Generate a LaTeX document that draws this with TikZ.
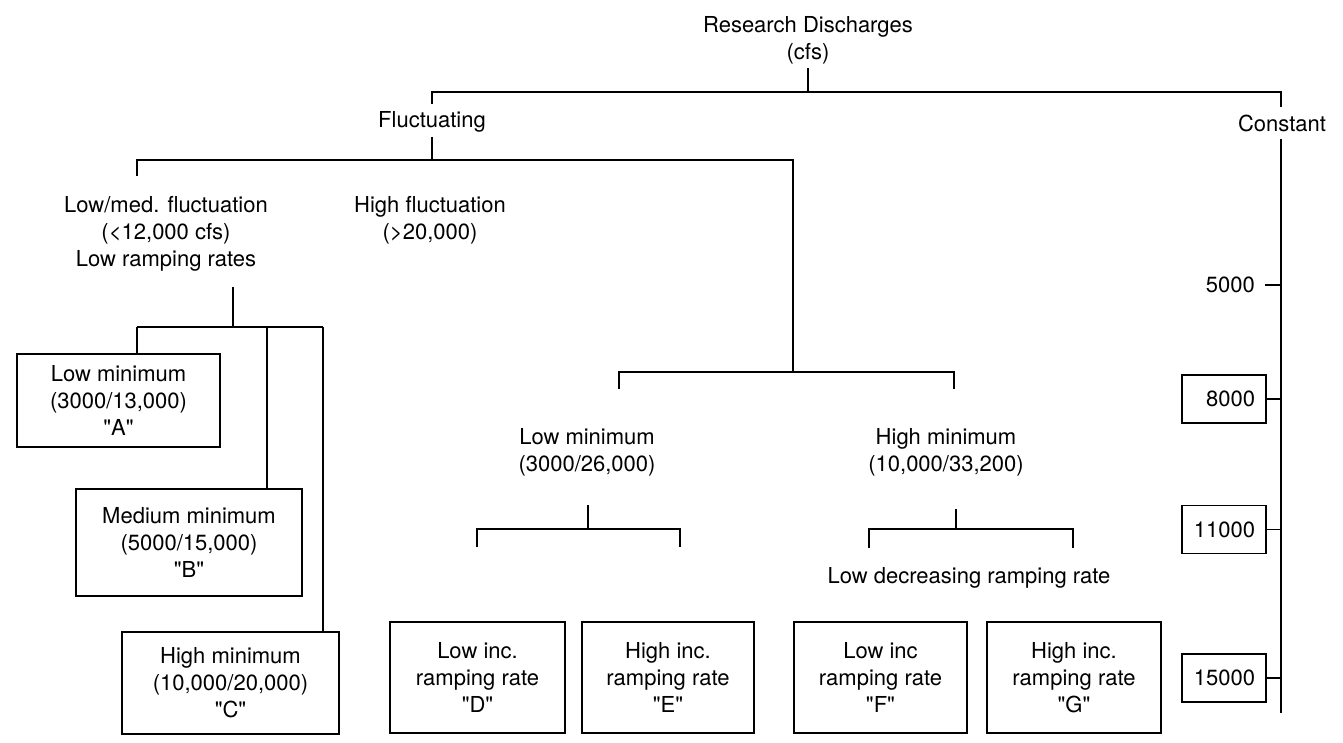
\documentclass[tikz,border=0pt]{standalone}
\usepackage{fontspec}
\setmainfont{TeX Gyre Heros}
\newcommand{\qq}[1]{\textquotedbl#1\textquotedbl}
\begin{document}
\begin{tikzpicture}[x=1pt,y=-1pt,
  every node/.style={font=\fontsize{22}{27}\selectfont, align=center, inner sep=0pt},
  conn/.style={line width=1.5pt},
  lbox/.style={draw, line width=1.5pt},
  numbox/.style={draw, line width=1.5pt, text width=62pt, align=right, inner xsep=11pt, minimum height=48pt}
]
\useasboundingbox (0,0) rectangle (1343,743);

% labels
\node (title) at (808,40) {Research Discharges\\(cfs)};
\node (fluct) at (432,122) {Fluctuating};
\node (const) at (1282,123) {Constant};
\node (lowmed) at (166,234) {Low/med. fluctuation\\(\textless12,000 cfs)\\Low ramping rates};
\node (highfl) at (430,220) {High fluctuation\\(\textgreater20,000)};
\node (lowmin) at (587,452) {Low minimum\\(3000/26,000)};
\node (highmin) at (946,452) {High minimum\\(10,000/33,200)};
\node (lowdec) at (969,578) {Low decreasing ramping rate};

% boxes
\node[lbox, minimum width=203pt, minimum height=93pt] (A) at (118.5,400.5) {Low minimum\\(3000/13,000)\\\qq{A}};
\node[lbox, minimum width=226pt, minimum height=107pt] (B) at (189,542.5) {Medium minimum\\(5000/15,000)\\\qq{B}};
\node[lbox, minimum width=217pt, minimum height=102pt] (C) at (230.5,683) {High minimum\\(10,000/20,000)\\\qq{C}};
\node[lbox, minimum width=175pt, minimum height=111pt] (D) at (477.5,677.5) {Low inc.\\ramping rate\\\qq{D}};
\node[lbox, minimum width=172pt, minimum height=111pt] (E) at (668,677.5) {High inc.\\ramping rate\\\qq{E}};
\node[lbox, minimum width=173pt, minimum height=111pt] (F) at (880.5,677.5) {Low inc\\ramping rate\\\qq{F}};
\node[lbox, minimum width=174pt, minimum height=111pt] (G) at (1074,677.5) {High inc.\\ramping rate\\\qq{G}};

\node[anchor=east] (n5) at (1255,285) {5000};
\node[numbox] (n8) at (1224,399) {8000};
\node[numbox] (n11) at (1224,529.5) {11000};
\node[numbox] (n15) at (1224,678) {15000};

% coordinates
\coordinate (topL) at (432,92);
\coordinate (topR) at (1281,92);
\coordinate (topM) at (808,92);
\coordinate (flL) at (137,160);
\coordinate (flR) at (793,160);
\coordinate (flM) at (432,160);
\coordinate (lmM) at (233,327);
\coordinate (lmL) at (137,327);
\coordinate (lmR) at (323,327);
\coordinate (hfL) at (619,372);
\coordinate (hfR) at (954,372);
\coordinate (loM) at (588,529);
\coordinate (loL) at (477,529);
\coordinate (loR) at (680,529);
\coordinate (hiM) at (956,529);
\coordinate (hiL) at (869,529);
\coordinate (hiR) at (1073,529);
\coordinate (cBot) at (1281,713);

% top level
\draw[conn] (808,68) -- (topM);
\draw[conn] (432,104) -- (topL) -- (topR) -- (1281,107);
% fluctuating
\draw[conn] (432,137) -- (flM);
\draw[conn] (137,176) -- (flL) -- (flR) -- (793,372);
% low/med
\draw[conn] (233,287) -- (lmM);
\draw[conn] (lmL) -- (lmR);
\draw[conn] (lmL) -- (lmL |- A.north);
\draw[conn] (267,327) -- (267,327 |- B.north);
\draw[conn] (lmR) -- (lmR |- C.north);
% high fluctuation
\draw[conn] (619,389) -- (hfL) -- (hfR) -- (954,389);
\draw[conn] (588,505) -- (loM);
\draw[conn] (477,547) -- (loL) -- (loR) -- (680,547);
\draw[conn] (956,509) -- (hiM);
\draw[conn] (869,548) -- (hiL) -- (hiR) -- (1073,548);
% constant
\draw[conn] (1281,139) -- (cBot);
\draw[conn] (1265,285) -- (1281,285);
\draw[conn] (n8.east) -- (n8.east -| cBot);
\draw[conn] (n11.east) -- (n11.east -| cBot);
\draw[conn] (n15.east) -- (n15.east -| cBot);
\end{tikzpicture}
\end{document}
